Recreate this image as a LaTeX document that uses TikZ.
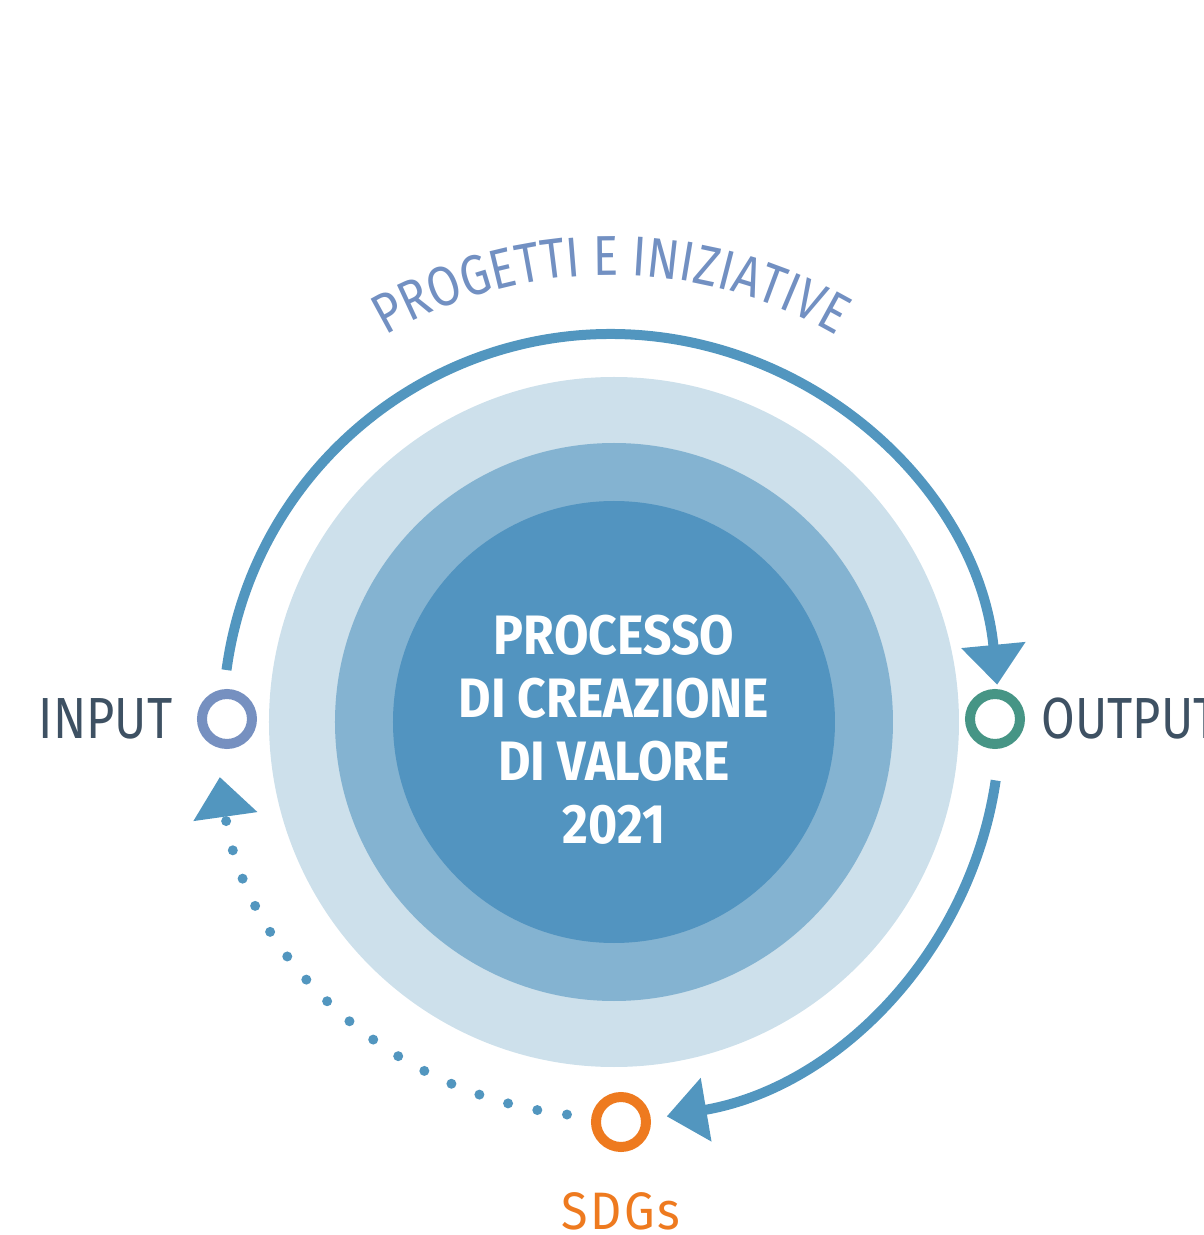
\documentclass[tikz,border=0pt]{standalone}
\usepackage{fontspec}
\newfontfamily\condfont[FakeStretch=0.84]{Fira Sans}
\newfontfamily\headfont[FakeStretch=0.9]{Fira Sans}
\newfontfamily\spacedfont[FakeStretch=0.92, LetterSpace=5]{Fira Sans}
\definecolor{LightBlue}{HTML}{CDE0EB}
\definecolor{MidBlue}{HTML}{84B3D1}
\definecolor{CoreBlue}{HTML}{5294C0}
\definecolor{FlowBlue}{HTML}{5296BF}
\definecolor{InputBlue}{HTML}{7690C0}
\definecolor{OutputGreen}{HTML}{469585}
\definecolor{SdgOrange}{HTML}{EE7A1F}
\definecolor{LabelGray}{HTML}{3E5163}
\definecolor{ArcText}{HTML}{7290C2}
\usetikzlibrary{arrows.meta,positioning,decorations.text}

\begin{document}
\begin{tikzpicture}[
      ring/.style={circle, draw, line width=1mm, fill=white,
                   minimum size=5mm, inner sep=0pt},
      flow/.style={-{Triangle[length=4mm,width=6.2mm]},
                   FlowBlue, line width=1mm},
      dots/.style={FlowBlue, line width=1mm, line cap=round,
                   dash pattern=on 0pt off 3mm},
      label/.style={inner sep=0pt, text=LabelGray,
                    font=\condfont\fontsize{16.5pt}{18pt}\selectfont}]

      \useasboundingbox (-6.14,-5.13) rectangle (5.90,7.22);

      \coordinate (c)  at (0,0);
      \coordinate (ac) at (-0.03,0);
      \coordinate (lc) at (-0.14,0);

      % three discs
      \fill[LightBlue] (c) circle (3.45);
      \fill[MidBlue]   (c) circle (2.79);
      \fill[CoreBlue]  (c) circle (2.21);

      \node[text=white, align=center, inner sep=0pt,
            font=\headfont\bfseries\fontsize{15.8pt}{17.9pt}\selectfont]
            (proc) at (0,-0.08) {PROCESSO\\DI CREAZIONE\\DI VALORE\\2021};

      % flow around the discs
      \draw[flow] (ac) ++(172.3:3.88) arc[start angle=172.3, end angle=5.5, radius=3.88];
      \draw[flow] (lc) ++(-8.4:4.0) arc[start angle=-8.4, end angle=-80.4, radius=4.0];
      \draw[dots, -{Triangle[length=4mm,width=6.2mm]}]
            (ac) ++(263.6:3.95) arc[start angle=263.6, end angle=188, radius=3.95];

      \path[decorate, decoration={text along path, text align=center,
            text={|\condfont\fontsize{16pt}{18pt}\selectfont\color{ArcText}|PROGETTI E INIZIATIVE}}]
            (ac) ++(125:4.47) arc[start angle=125, end angle=55, radius=4.47];

      % stations
      \node[ring, draw=InputBlue]   (in)  at (-3.87, 0.03) {};
      \node[ring, draw=OutputGreen] (out) at ( 3.81, 0.03) {};
      \node[ring, draw=SdgOrange]   (sdg) at ( 0.07,-4.00) {};

      \node[label, left=2.4mm of in]   (intext)  {INPUT};
      \node[label, right=1.6mm of out] (outtext) {OUTPUT};
      \node[label, below=4.0mm of sdg, text=SdgOrange,
            font=\spacedfont\fontsize{15pt}{16pt}\selectfont] (sdgtext) {SDGs};
    \end{tikzpicture}
\end{document}
